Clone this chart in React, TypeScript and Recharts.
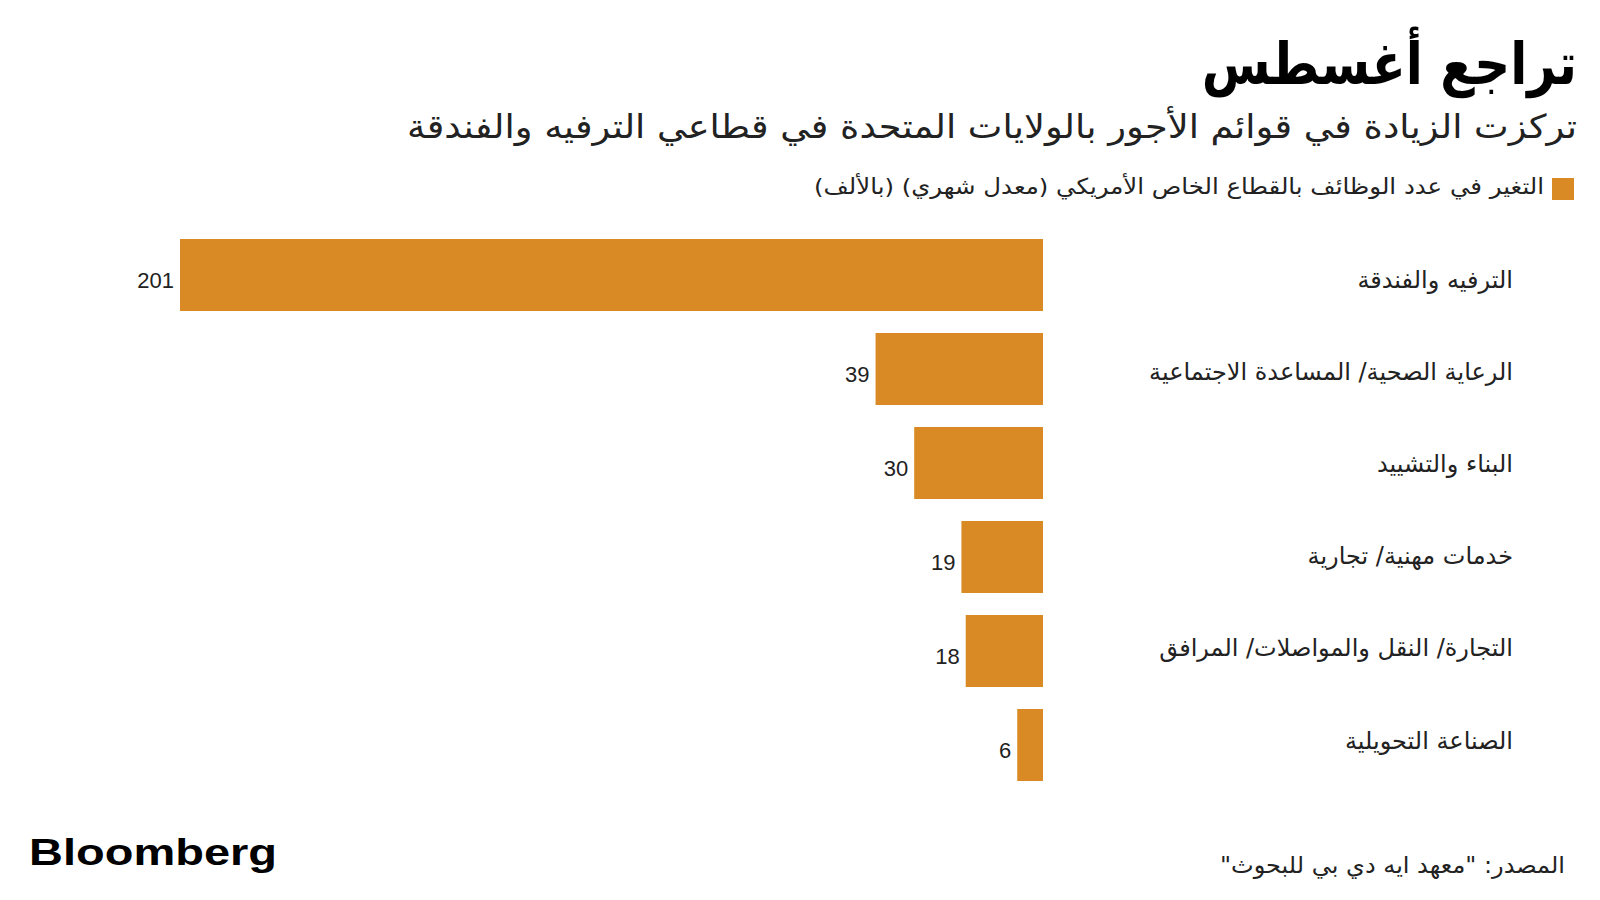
import React from 'react';
import { BarChart, Bar, XAxis, YAxis, LabelList } from 'recharts';

const categories = [
  'الترفيه والفندقة',
  'الرعاية الصحية/ المساعدة الاجتماعية',
  'البناء والتشييد',
  'خدمات مهنية/ تجارية',
  'التجارة/ النقل والمواصلات/ المرافق',
  'الصناعة التحويلية',
];
const values = [201, 39, 30, 19, 18, 6];

const title = 'تراجع أغسطس';
const subtitle = 'تركزت الزيادة في قوائم الأجور بالولايات المتحدة في قطاعي الترفيه والفندقة';
const legendLabel = 'التغير في عدد الوظائف بالقطاع الخاص الأمريكي (معدل شهري) (بالألف)';
const sourceText = 'المصدر: "معهد ايه دي بي للبحوث"';
const brand = 'Bloomberg';

const data = categories.map((name, i) => ({ name, value: values[i] }));

const BAR_COLOR = '#DA8A24';
const AR_FONT = '"DejaVu Sans", sans-serif';
const NUM_FONT = '"Liberation Sans", Arial, sans-serif';
const LABEL_RIGHT = 1513;

const CategoryLabel = (props: any) => {
  const { y, height, value, index } = props;
  const drift = 13 - 1.9 * (index || 0);
  return (
    <text
      x={LABEL_RIGHT}
      y={y + height / 2 + drift}
      textAnchor="end"
      fontFamily={AR_FONT}
      fontSize={24}
      fill="#222"
    >
      {value}
    </text>
  );
};

const ValueLabel = (props: any) => {
  const { x, y, width, height, value } = props;
  const left = Math.min(x, x + width);
  return (
    <text
      x={left - 6}
      y={y + height / 2 + 13}
      textAnchor="end"
      fontFamily={NUM_FONT}
      fontSize={22}
      fill="#222"
    >
      {value}
    </text>
  );
};

export default function App() {
  return (
    <div
      style={{
        position: 'absolute',
        left: 0,
        top: 0,
        width: 1600,
        height: 900,
        background: '#ffffff',
        overflow: 'hidden',
      }}
    >
      <div style={{ position: 'absolute', left: 0, top: 0 }}>
        <BarChart
          width={1600}
          height={900}
          data={data}
          layout="vertical"
          margin={{ top: 228, right: 557, bottom: 108, left: 180 }}
          barSize={72}
        >
          <XAxis type="number" domain={[0, 201]} reversed hide />
          <YAxis type="category" dataKey="name" hide />
          <Bar dataKey="value" fill={BAR_COLOR} isAnimationActive={false}>
            <LabelList dataKey="value" content={<ValueLabel />} />
            <LabelList dataKey="name" content={<CategoryLabel />} />
          </Bar>
        </BarChart>
      </div>
      <svg
        width={1600}
        height={900}
        style={{ position: 'absolute', left: 0, top: 0, pointerEvents: 'none' }}
      >
        <g transform="translate(1577,84) scale(0.86,1)">
          <text
            x={0}
            y={0}
            textAnchor="start"
            direction="rtl"
            style={{ direction: 'rtl' }}
            fontFamily={AR_FONT}
            fontWeight="bold"
            fontSize={58}
            fill="#000"
          >
            {title}
          </text>
        </g>
        <text
          x={1577}
          y={138}
          textAnchor="start"
          direction="rtl"
          style={{ direction: 'rtl' }}
          fontFamily={AR_FONT}
          fontSize={33}
          textLength={1170}
          lengthAdjust="spacingAndGlyphs"
          fill="#222"
        >
          {subtitle}
        </text>
        <rect x={1552} y={178} width={22} height={22} fill={BAR_COLOR} />
        <text
          x={1544}
          y={194}
          textAnchor="start"
          direction="rtl"
          style={{ direction: 'rtl' }}
          fontFamily={AR_FONT}
          fontSize={22}
          textLength={730}
          lengthAdjust="spacingAndGlyphs"
          fill="#222"
        >
          {legendLabel}
        </text>
        <text
          x={29}
          y={865}
          fontFamily={NUM_FONT}
          fontWeight="bold"
          fontSize={37}
          textLength={248}
          lengthAdjust="spacingAndGlyphs"
          fill="#000"
        >
          {brand}
        </text>
        <text
          x={1565}
          y={873}
          textAnchor="start"
          direction="rtl"
          style={{ direction: 'rtl' }}
          fontFamily={AR_FONT}
          fontSize={23}
          textLength={345}
          lengthAdjust="spacingAndGlyphs"
          fill="#222"
        >
          {sourceText}
        </text>
      </svg>
    </div>
  );
}
